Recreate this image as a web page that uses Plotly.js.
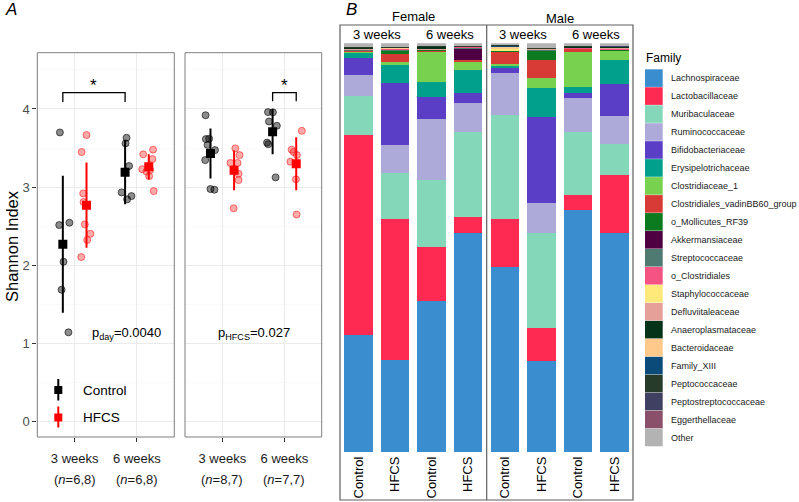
<!DOCTYPE html>
<html><head><meta charset="utf-8">
<script src="https://cdn.plot.ly/plotly-3.0.1.min.js"></script>
<style>html,body{margin:0;padding:0;background:#fff}#chart{width:799px;height:502px}</style>
</head><body><div id="chart"></div>
<script>
// ---------- Panel A data (Shannon index) ----------
const weekLabels = ['3 weeks', '6 weeks'];
const nLabelsDay = ['(<i>n</i>=6,8)', '(<i>n</i>=6,8)'];
const nLabelsHfcs = ['(<i>n</i>=8,7)', '(<i>n</i>=7,7)'];
const groupNames = ['Control', 'HFCS'];

// left facet (day effect)
const dayCtrl3w = [3.70, 2.515, 2.545, 2.046, 1.688, 1.143];
const dayCtrl3wJit = [-0.237, -0.248, -0.084, -0.179, -0.210, -0.100];
const dayHfcs3w = [3.449, 3.667, 2.92, 2.81, 2.524, 2.324, 2.404, 2.106];
const dayHfcs3wJit = [0.111, 0.190, 0.137, 0.142, 0.163, 0.201, 0.253, 0.106];
const dayCtrl6w = [3.632, 3.56, 3.27, 2.933, 2.886, 2.844];
const dayCtrl6wJit = [-0.167, -0.183, -0.126, -0.246, -0.088, -0.158];
const dayHfcs6w = [3.42, 3.48, 3.36, 3.23, 3.20, 3.22, 3.14, 2.95];
const dayHfcs6wJit = [0.101, 0.259, 0.248, 0.085, 0.153, 0.212, 0.196, 0.269];
const dayMeanCtrl = [2.27, 3.19];
const daySdCtrl = [0.875, 0.41];
const dayMeanHfcs = [2.77, 3.26];
const daySdHfcs = [0.545, 0.16];

// right facet (HFCS effect)
const hfcsCtrl3w = [3.92, 3.615, 3.62, 3.54, 3.474, 3.346, 2.976, 2.967];
const hfcsCtrl3wJit = [-0.269, -0.264, -0.212, -0.237, -0.117, -0.275, -0.190, -0.126];
const hfcsHfcs3w = [3.496, 3.41, 3.31, 3.31, 3.17, 3.09, 2.73];
const hfcsHfcs3wJit = [0.210, 0.278, 0.131, 0.246, 0.262, 0.262, 0.183];
const hfcsCtrl6w = [3.96, 3.957, 3.84, 3.785, 3.57, 3.55, 3.125];
const hfcsCtrl6wJit = [-0.264, -0.185, -0.248, -0.122, -0.280, -0.260, -0.142];
const hfcsHfcs6w = [3.72, 3.48, 3.45, 3.41, 3.325, 3.10, 2.65];
const hfcsHfcs6wJit = [0.280, 0.116, 0.148, 0.201, 0.096, 0.185, 0.196];
const hfcsMeanCtrl = [3.43, 3.71];
const hfcsSdCtrl = [0.32, 0.29];
const hfcsMeanHfcs = [3.215, 3.30];
const hfcsSdHfcs = [0.255, 0.34];

// ---------- Panel B data (relative abundance by family) ----------
const barLabels = ['Control', 'HFCS', 'Control', 'HFCS', 'Control', 'HFCS', 'Control', 'HFCS'];
const sexLabels = ['Female', 'Male'];
const familyNames = ['Lachnospiraceae', 'Lactobacillaceae', 'Muribaculaceae', 'Ruminococcaceae',
  'Bifidobacteriaceae', 'Erysipelotrichaceae', 'Clostridiaceae_1', 'Clostridiales_vadinBB60_group',
  'o_Mollicutes_RF39', 'Akkermansiaceae', 'Streptococcaceae', 'o_Clostridiales', 'Staphylococcaceae',
  'Defluviitaleaceae', 'Anaeroplasmataceae', 'Bacteroidaceae', 'Family_XIII', 'Peptococcaceae',
  'Peptostreptococcaceae', 'Eggerthellaceae', 'Other'];
const familyColors = ['#3A8ED0', '#FF2A52', '#84D8B9', '#ADA9D9', '#5A3EC5', '#00A08C', '#78D14F',
  '#D83A36', '#0C7A1E', '#4E0042', '#4F7A71', '#F45383', '#FFE97A', '#E6A09A', '#04331A', '#FFC98C',
  '#0A4B79', '#263B2A', '#3F4062', '#8B5069', '#B3B3B3'];

const lachnospiraceae = [0.286, 0.225, 0.369, 0.537, 0.453, 0.223, 0.592, 0.535];
const lactobacillaceae = [0.490, 0.345, 0.133, 0.038, 0.117, 0.080, 0.038, 0.143];
const muribaculaceae = [0.096, 0.112, 0.164, 0.209, 0.255, 0.234, 0.152, 0.075];
const ruminococcaceae = [0.050, 0.069, 0.148, 0.071, 0.102, 0.073, 0.084, 0.068];
const bifidobacteriaceae = [0.042, 0.152, 0.054, 0.023, 0.012, 0.209, 0.012, 0.079];
const erysipelotrichaceae = [0.012, 0.045, 0.038, 0.057, 0.006, 0.072, 0.015, 0.060];
const clostridiaceae1 = [0.002, 0.007, 0.073, 0.020, 0.005, 0.023, 0.086, 0.020];
const vadinBB60 = [0.003, 0.020, 0.0025, 0.003, 0.029, 0.046, 0.006, 0.002];
const mollicutesRF39 = [0.001, 0.007, 0.001, 0.001, 0.001, 0.022, 0.001, 0.001];
const akkermansiaceae = [0, 0, 0, 0.027, 0, 0, 0, 0];
const streptococcaceae = [0.001, 0.001, 0.001, 0.003, 0.001, 0.001, 0.001, 0.001];
const oClostridiales = [0.001, 0.002, 0.001, 0.001, 0.001, 0.001, 0.001, 0.003];
const staphylococcaceae = [0, 0, 0, 0, 0.003, 0, 0, 0];
const defluviitaleaceae = [0.003, 0.001, 0.001, 0.001, 0.001, 0.001, 0.001, 0.001];
const anaeroplasmataceae = [0.001, 0.001, 0.006, 0.001, 0.001, 0.001, 0.003, 0.003];
const bacteroidaceae = [0.001, 0.002, 0, 0, 0.004, 0.001, 0, 0];
const familyXIII = [0, 0, 0, 0, 0.003, 0, 0, 0];
const peptococcaceae = [0.001, 0.001, 0.001, 0.002, 0.001, 0.001, 0.002, 0.001];
const peptostreptococcaceae = [0.001, 0, 0, 0, 0.001, 0, 0, 0.001];
const eggerthellaceae = [0.001, 0.001, 0, 0, 0, 0.001, 0, 0.001];
const other = [0.008, 0.009, 0.0075, 0.006, 0.004, 0.011, 0.006, 0.006];

const familyValues = [lachnospiraceae, lactobacillaceae, muribaculaceae, ruminococcaceae,
  bifidobacteriaceae, erysipelotrichaceae, clostridiaceae1, vadinBB60, mollicutesRF39,
  akkermansiaceae, streptococcaceae, oClostridiales, staphylococcaceae, defluviitaleaceae,
  anaeroplasmataceae, bacteroidaceae, familyXIII, peptococcaceae, peptostreptococcaceae,
  eggerthellaceae, other];

// ---------- helpers ----------
const W = 799, H = 502;
const X = p => p / W, Y = p => 1 - p / H;
const FONT = 'Liberation Sans, Arial, Helvetica, sans-serif';
const DODGE = 0.19;
const ctrlPt = {size: 7, color: 'rgba(0,0,0,0.45)', line: {color: 'rgba(0,0,0,0.6)', width: 1}};
const hfcsPt = {size: 7, color: 'rgba(255,40,40,0.4)', line: {color: 'rgba(255,0,0,0.5)', width: 1}};

function pts(vals, jit, cat, xa, ya, marker) {
  return {type: 'scatter', mode: 'markers', x: vals.map((v, i) => cat + jit[i]), y: vals,
    xaxis: xa, yaxis: ya, marker: marker, hoverinfo: 'skip', showlegend: false};
}
function means(m, sd, off, xa, ya, color) {
  return {type: 'scatter', mode: 'markers', x: [1 + off, 2 + off], y: m, xaxis: xa, yaxis: ya,
    marker: {symbol: 'square', size: 9, color: color},
    error_y: {type: 'data', array: sd, visible: true, color: color, thickness: 2, width: 0},
    hoverinfo: 'skip', showlegend: false};
}

const traces = [
  pts(dayCtrl3w, dayCtrl3wJit, 1, 'x', 'y', ctrlPt),
  pts(dayHfcs3w, dayHfcs3wJit, 1, 'x', 'y', hfcsPt),
  pts(dayCtrl6w, dayCtrl6wJit, 2, 'x', 'y', ctrlPt),
  pts(dayHfcs6w, dayHfcs6wJit, 2, 'x', 'y', hfcsPt),
  pts(hfcsCtrl3w, hfcsCtrl3wJit, 1, 'x2', 'y2', ctrlPt),
  pts(hfcsHfcs3w, hfcsHfcs3wJit, 1, 'x2', 'y2', hfcsPt),
  pts(hfcsCtrl6w, hfcsCtrl6wJit, 2, 'x2', 'y2', ctrlPt),
  pts(hfcsHfcs6w, hfcsHfcs6wJit, 2, 'x2', 'y2', hfcsPt),
  means(dayMeanCtrl, daySdCtrl, -DODGE, 'x', 'y', '#000000'),
  means(dayMeanHfcs, daySdHfcs, DODGE, 'x', 'y', '#FF0000'),
  means(hfcsMeanCtrl, hfcsSdCtrl, -DODGE, 'x2', 'y2', '#000000'),
  means(hfcsMeanHfcs, hfcsSdHfcs, DODGE, 'x2', 'y2', '#FF0000')
];

familyNames.forEach((name, k) => {
  traces.push({type: 'bar', name: name, x: barLabels.map((_, i) => i), y: familyValues[k],
    xaxis: 'x3', yaxis: 'y3', width: 0.78, marker: {color: familyColors[k], line: {width: 0}},
    hoverinfo: 'skip', showlegend: false});
});

// ---------- axes ----------
const gridCol = '#EBEBEB';
const yA = {range: [-0.196, 4.72], domain: [Y(437), Y(52.7)], tickvals: [0, 1, 2, 3, 4],
  showgrid: true, gridcolor: gridCol, gridwidth: 1, zeroline: false, showline: false,
  minor: {dtick: 0.5, showgrid: true, gridcolor: '#F6F6F6', gridwidth: 0.6, ticks: ''},
  ticks: 'outside', ticklen: 4, tickcolor: '#333', tickfont: {size: 13, color: '#4D4D4D', family: FONT},
  automargin: false, fixedrange: true};
const xA = {range: [0.4, 2.6], tickvals: [1, 2], ticktext: weekLabels, showgrid: true, gridcolor: gridCol,
  zeroline: false, showline: false, ticks: 'outside', ticklen: 4, tickcolor: '#333',
  tickfont: {size: 13, color: '#1A1A1A', family: FONT}, ticklabelstandoff: 5, automargin: false, fixedrange: true};

const layout = {
  width: W, height: H, margin: {l: 0, r: 0, t: 0, b: 0}, paper_bgcolor: '#fff', plot_bgcolor: '#fff',
  font: {family: FONT, color: '#000'}, showlegend: false, barmode: 'stack', bargap: 0,
  xaxis: Object.assign({}, xA, {domain: [X(37.3), X(174.3)], anchor: 'y'}),
  yaxis: Object.assign({}, yA, {anchor: 'x'}),
  xaxis2: Object.assign({}, xA, {domain: [X(185), X(321.7)], anchor: 'y2'}),
  yaxis2: Object.assign({}, yA, {anchor: 'x2', showticklabels: false, ticks: ''}),
  xaxis3: {domain: [X(340), X(633)], anchor: 'y3', range: [-0.5, 7.5], tickvals: barLabels.map((_, i) => i),
    ticktext: barLabels, tickangle: -90, ticks: '', showgrid: false, zeroline: false, showline: false,
    tickfont: {size: 13, color: '#000', family: FONT}, ticklabelstandoff: 1, automargin: false, fixedrange: true},
  yaxis3: {domain: [Y(452), Y(43.3)], anchor: 'x3', range: [0, 1], showgrid: false, zeroline: false,
    showticklabels: false, ticks: '', showline: false, automargin: false, fixedrange: true},
  shapes: [], annotations: []
};

const S = layout.shapes, A = layout.annotations;
const paperLine = (x0, y0, x1, y1, color, w) => S.push({type: 'line', xref: 'paper', yref: 'paper',
  x0: X(x0), y0: Y(y0), x1: X(x1), y1: Y(y1), line: {color: color, width: w}});
const paperRect = (x0, y0, x1, y1, fill, lineColor, w) => S.push({type: 'rect', xref: 'paper', yref: 'paper',
  x0: X(x0), y0: Y(y0), x1: X(x1), y1: Y(y1), fillcolor: fill, line: {color: lineColor, width: w}, layer: 'above'});
const txt = (text, x, y, size, opts) => A.push(Object.assign({text: text, xref: 'paper', yref: 'paper',
  x: X(x), y: Y(y), showarrow: false, font: {size: size, family: FONT, color: '#000'},
  xanchor: 'center', yanchor: 'middle'}, opts || {}));
const dtxt = (text, xref, yref, x, y, size, color) => A.push({text: text, xref: xref, yref: yref, x: x, y: y,
  showarrow: false, xanchor: 'center', yanchor: 'middle', font: {size: size, family: FONT, color: color || '#000'}});

// panel A borders
paperRect(37.3, 52.7, 174.3, 437, 'rgba(0,0,0,0)', '#7F7F7F', 1);
paperRect(185, 52.7, 321.7, 437, 'rgba(0,0,0,0)', '#7F7F7F', 1);

// significance brackets (data coords)
S.push({type: 'path', xref: 'x', yref: 'y', path: `M ${1 - DODGE} 4.09 L ${1 - DODGE} 4.21 L ${2 - DODGE} 4.21 L ${2 - DODGE} 4.09`,
  line: {color: '#000', width: 1.3}});
S.push({type: 'path', xref: 'x2', yref: 'y2', path: `M ${2 - DODGE} 4.10 L ${2 - DODGE} 4.21 L ${2 + DODGE} 4.21 L ${2 + DODGE} 4.10`,
  line: {color: '#000', width: 1.3}});
dtxt('*', 'x', 'y', 1.5 - DODGE, 4.30, 17);
dtxt('*', 'x2', 'y2', 2, 4.30, 17);

// p-values
dtxt('p<sub>day</sub>=0.0040', 'x', 'y', 1.84, 1.13, 13);
dtxt('p<sub>HFCS</sub>=0.027', 'x2', 'y2', 1.51, 1.13, 13);

// n labels
nLabelsDay.forEach((t, i) => dtxt(t, 'x', 'paper', i + 1, Y(479.5), 13, '#1A1A1A'));
nLabelsHfcs.forEach((t, i) => dtxt(t, 'x2', 'paper', i + 1, Y(479.5), 13, '#1A1A1A'));

// y title
txt('Shannon Index', 11.5, 246.5, 16.5, {textangle: -90});

// panel A legend
paperLine(58.3, 379, 58.3, 400.5, '#000', 2);
paperRect(54.3, 386, 62.3, 394, '#000', '#000', 0);
paperLine(58.3, 406.5, 58.3, 427.5, '#FF0000', 2);
paperRect(54.3, 413.5, 62.3, 421.5, '#FF0000', '#FF0000', 0);
txt(groupNames[0], 81, 390, 13.5, {xanchor: 'left'});
txt(groupNames[1], 81, 417.7, 13.5, {xanchor: 'left'});

// panel letters
txt('<i>A</i>', 3, 10, 17, {xanchor: 'left'});
txt('<i>B</i>', 344, 10, 17, {xanchor: 'left'});

// panel B frame
paperRect(340, 25, 633, 500, 'rgba(0,0,0,0)', '#5F5F5F', 1.2);
paperLine(486.7, 25, 486.7, 500, '#5F5F5F', 1.2);
dtxt(sexLabels[0], 'x3', 'paper', 1.5, Y(16.5), 13);
dtxt(sexLabels[1], 'x3', 'paper', 5.5, Y(18.5), 13);
[0.5, 2.5, 4.5, 6.5].forEach((c, i) => dtxt(weekLabels[i % 2], 'x3', 'paper', c, Y(34.5), 13));

// family legend
txt('Family', 644, 58.3, 12, {xanchor: 'left'});
familyNames.forEach((name, k) => {
  const y0 = 69.3 + k * 17.97;
  paperRect(645, y0, 662.7, y0 + 17.6, familyColors[k], familyColors[k], 0);
  txt(name, 668.7, y0 + 8.8, 9, {xanchor: 'left', font: {size: 9, family: FONT, color: '#1A1A1A'}});
});

Plotly.newPlot('chart', traces, layout, {staticPlot: true, displayModeBar: false});
</script></body></html>
